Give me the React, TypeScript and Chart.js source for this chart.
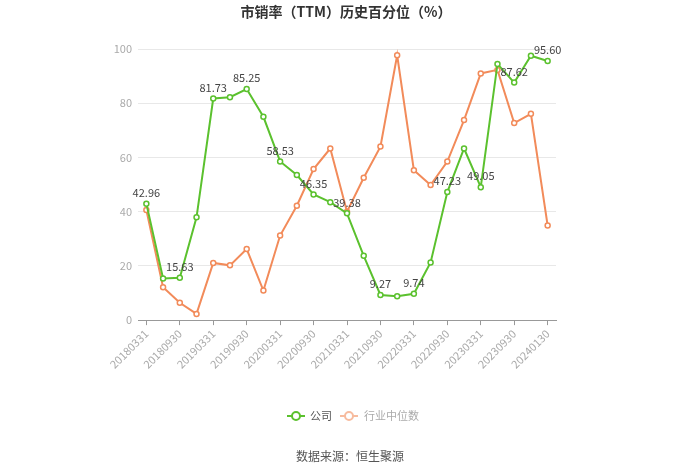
import React, { useEffect, useRef } from "react";
import { Chart, registerables } from "chart.js";

Chart.register(...registerables);

const categories: string[] = [
  "20180331", "20180630", "20180930", "20181231",
  "20190331", "20190630", "20190930", "20191231",
  "20200331", "20200630", "20200930", "20201231",
  "20210331", "20210630", "20210930", "20211231",
  "20220331", "20220630", "20220930", "20221231",
  "20230331", "20230630", "20230930", "20231231",
  "20240130",
];

const companyValues: number[] = [
  42.96, 15.4, 15.63, 37.9, 81.73, 82.2, 85.25, 75.0, 58.53, 53.5, 46.35, 43.5,
  39.38, 23.7, 9.27, 8.8, 9.74, 21.3, 47.23, 63.3, 49.05, 94.5, 87.62, 97.5, 95.6,
];

const industryValues: number[] = [
  40.6, 12.1, 6.4, 2.3, 21.1, 20.2, 26.2, 10.9, 31.2, 42.2, 55.7, 63.3,
  40.0, 52.5, 64.0, 97.7, 55.3, 49.8, 58.5, 73.8, 91.0, 92.3, 72.7, 76.1, 34.9,
];

const labeledIndices: number[] = [0, 2, 4, 6, 8, 10, 12, 14, 16, 18, 20, 22, 24];

const yTicks: number[] = [0, 20, 40, 60, 80, 100];

const seriesNames: string[] = ["公司", "行业中位数"];
const titleText = "市销率（TTM）历史百分位（%）";
const sourceText = "数据来源：恒生聚源";

const GREEN = "#5bc12e";
const ORANGE = "#f28b5a";
const FONT = '"Noto Sans CJK SC", "Noto Sans", sans-serif';

export default function App() {
  const canvasRef = useRef<HTMLCanvasElement | null>(null);

  useEffect(() => {
    document.body.style.margin = "0";
    const canvas = canvasRef.current;
    if (!canvas) return;

    const decorPlugin = {
      id: "decor",
      afterDatasetsDraw(chart: any) {
        const ctx = chart.ctx;
        const meta = chart.getDatasetMeta(0);
        ctx.save();
        ctx.font = `11px ${FONT}`;
        ctx.fillStyle = "#444";
        ctx.textAlign = "center";
        ctx.textBaseline = "middle";
        labeledIndices.forEach((i) => {
          const pt = meta.data[i];
          if (!pt) return;
          ctx.fillText(companyValues[i].toFixed(2), pt.x, pt.y - 11);
        });
        ctx.restore();
      },
      afterDraw(chart: any) {
        const ctx = chart.ctx;
        ctx.save();
        // title
        ctx.font = `bold 14px ${FONT}`;
        ctx.fillStyle = "#333";
        ctx.textAlign = "center";
        ctx.textBaseline = "middle";
        ctx.fillText(titleText, 346, 12);

        // legend
        const drawSym = (cx: number, cy: number, color: string) => {
          ctx.strokeStyle = color;
          ctx.lineWidth = 2;
          ctx.beginPath();
          ctx.moveTo(cx - 9, cy);
          ctx.lineTo(cx + 9, cy);
          ctx.stroke();
          ctx.beginPath();
          ctx.arc(cx, cy, 4, 0, Math.PI * 2);
          ctx.fillStyle = "#fff";
          ctx.fill();
          ctx.stroke();
        };
        const ly = 416;
        drawSym(296, ly, GREEN);
        drawSym(349, ly, "#f7bb9e");
        ctx.font = `11px ${FONT}`;
        ctx.textAlign = "left";
        ctx.fillStyle = "#555";
        ctx.fillText(seriesNames[0], 310, ly);
        ctx.fillStyle = "#aaa";
        ctx.fillText(seriesNames[1], 364, ly);

        // source
        ctx.font = `12px ${FONT}`;
        ctx.fillStyle = "#555";
        ctx.textAlign = "center";
        ctx.fillText(sourceText, 350, 456);
        ctx.restore();
      },
    };

    const chart = new Chart(canvas, {
      type: "line",
      data: {
        labels: categories,
        datasets: [
          {
            label: seriesNames[0],
            data: companyValues,
            borderColor: GREEN,
            backgroundColor: "#fff",
            borderWidth: 2,
            pointRadius: 2.5,
            pointBorderWidth: 1.5,
            pointBackgroundColor: "#fff",
            pointBorderColor: GREEN,
            tension: 0,
          },
          {
            label: seriesNames[1],
            data: industryValues,
            borderColor: ORANGE,
            backgroundColor: "#fff",
            borderWidth: 2,
            pointRadius: 2.5,
            pointBorderWidth: 1.5,
            pointBackgroundColor: "#fff",
            pointBorderColor: ORANGE,
            tension: 0,
          },
        ],
      },
      options: {
        responsive: false,
        animation: false,
        layout: { padding: { top: 49, left: 0, right: 144, bottom: 100 } },
        plugins: {
          legend: { display: false },
          title: { display: false },
          tooltip: { enabled: false },
        },
        scales: {
          x: {
            type: "category",
            offset: true,
            grid: {
              offset: false,
              drawOnChartArea: false,
              drawTicks: true,
              tickLength: 5,
              color: (c: any) => (c.index % 2 === 0 ? "#999" : "rgba(0,0,0,0)"),
            },
            border: { display: true, color: "#999", width: 1 },
            ticks: {
              autoSkip: false,
              maxRotation: 45,
              minRotation: 45,
              color: "#aaa",
              font: { size: 11, family: FONT },
              padding: 2,
              callback: (_v: any, i: number) => (i % 2 === 0 ? categories[i] : ""),
            },
          },
          y: {
            min: 0,
            max: 100,
            afterBuildTicks: (scale: any) => {
              scale.ticks = yTicks.map((v) => ({ value: v }));
            },
            afterFit: (scale: any) => {
              scale.width = 138;
            },
            grid: { color: "#e8e8e8", drawTicks: false },
            border: { display: false },
            ticks: {
              color: "#aaa",
              padding: 6,
              font: { size: 11, family: FONT },
            },
          },
        },
      },
      plugins: [decorPlugin],
    });

    return () => chart.destroy();
  }, []);

  return (
    <div style={{ width: 700, height: 473 }}>
      <canvas ref={canvasRef} width={700} height={473} />
    </div>
  );
}
